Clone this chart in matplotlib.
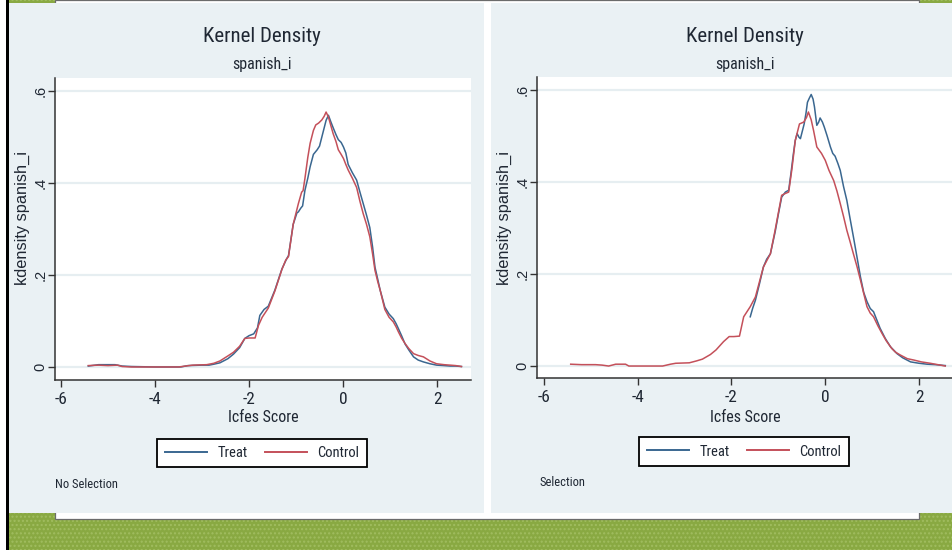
import os
import matplotlib
matplotlib.use("Agg")
import matplotlib.pyplot as plt
from matplotlib.patches import Rectangle
from matplotlib.lines import Line2D
from matplotlib import font_manager
from matplotlib.font_manager import FontProperties

# ---------------- data ----------------
xticks = [-6, -4, -2, 0, 2]
yticks = [0, 0.2, 0.4, 0.6]
ytick_labels = ["0", ".2", ".4", ".6"]
series_names = ["Treat", "Control"]

# Left panel: No Selection
left_treat_x = [-5.42, -5.2, -4.85, -4.7, -4.5, -4.0, -3.45, -3.3, -3.0, -2.85, -2.75, -2.62, -2.45, -2.33,
                -2.2, -2.09, -2.0, -1.9, -1.82, -1.77, -1.68, -1.59, -1.45, -1.30, -1.2, -1.16, -1.06, -0.98,
                -0.95, -0.90, -0.86, -0.81, -0.75, -0.70, -0.63, -0.55, -0.50, -0.45, -0.40, -0.36, -0.31,
                -0.26, -0.21, -0.15, -0.10, -0.04, 0.01, 0.06, 0.11, 0.2, 0.29, 0.36, 0.43, 0.50, 0.57, 0.63,
                0.68, 0.74, 0.79, 0.89, 0.98, 1.07, 1.13, 1.18, 1.25, 1.32, 1.40, 1.50, 1.60, 1.71, 1.85,
                1.99, 2.15, 2.28, 2.4, 2.52]
left_treat_y = [0.002, 0.005, 0.005, 0.002, 0.001, 0.0, 0.0, 0.003, 0.004, 0.004, 0.006, 0.009, 0.018, 0.028,
                0.042, 0.062, 0.068, 0.072, 0.085, 0.112, 0.125, 0.132, 0.167, 0.213, 0.235, 0.242, 0.31, 0.335,
                0.337, 0.345, 0.35, 0.384, 0.41, 0.435, 0.462, 0.472, 0.48, 0.50, 0.52, 0.536, 0.547,
                0.533, 0.52, 0.505, 0.494, 0.488, 0.478, 0.465, 0.44, 0.422, 0.406, 0.38, 0.355, 0.33, 0.303, 0.26,
                0.217, 0.19, 0.167, 0.13, 0.115, 0.105, 0.094, 0.083, 0.067, 0.05, 0.037, 0.022, 0.015, 0.011, 0.007,
                0.004, 0.003, 0.002, 0.002, 0.001]

left_control_x = [-5.42, -5.2, -5.0, -4.8, -4.7, -4.5, -4.0, -3.5, -3.35, -3.2, -2.9, -2.75, -2.62, -2.45,
                  -2.33, -2.2, -2.09, -2.0, -1.87, -1.8, -1.72, -1.59, -1.45, -1.30, -1.22, -1.16, -1.06, -0.95,
                  -0.88, -0.85, -0.81, -0.75, -0.70, -0.63, -0.58, -0.52, -0.45, -0.40, -0.36, -0.31, -0.26,
                  -0.21, -0.15, -0.10, -0.04, 0.01, 0.06, 0.11, 0.2, 0.29, 0.36, 0.43, 0.50, 0.57, 0.63, 0.68,
                  0.74, 0.79, 0.89, 0.98, 1.07, 1.13, 1.18, 1.25, 1.32, 1.40, 1.50, 1.60, 1.71, 1.85, 1.99,
                  2.15, 2.28, 2.4, 2.52]
left_control_y = [0.003, 0.004, 0.003, 0.004, 0.001, 0.0, 0.0, 0.0, 0.002, 0.004, 0.005, 0.008, 0.013, 0.024,
                  0.032, 0.045, 0.062, 0.063, 0.063, 0.09, 0.108, 0.128, 0.165, 0.212, 0.232, 0.24, 0.31, 0.355,
                  0.38, 0.383, 0.41, 0.455, 0.486, 0.514, 0.526, 0.53, 0.537, 0.545, 0.554, 0.543, 0.525,
                  0.507, 0.49, 0.472, 0.462, 0.453, 0.44, 0.428, 0.41, 0.39, 0.36, 0.333, 0.31, 0.283, 0.245, 0.21,
                  0.185, 0.167, 0.125, 0.108, 0.098, 0.087, 0.076, 0.062, 0.051, 0.04, 0.029, 0.025, 0.022, 0.013, 0.007,
                  0.005, 0.004, 0.003, 0.001]

# Right panel: Selection
right_treat_x = [-1.60, -1.55, -1.49, -1.40, -1.32, -1.25, -1.17, -1.07, -1.0, -0.93, -0.85, -0.78, -0.73,
                 -0.68, -0.64, -0.60, -0.56, -0.53, -0.49, -0.45, -0.41, -0.38, -0.34, -0.30, -0.26, -0.23,
                 -0.18, -0.14, -0.11, -0.06, -0.02, 0.04, 0.11, 0.16, 0.21, 0.27, 0.32, 0.39, 0.46, 0.53, 0.60,
                 0.68, 0.75, 0.82, 0.89, 0.96, 1.03, 1.10, 1.17, 1.28, 1.39, 1.53, 1.65, 1.82, 2.0, 2.17, 2.35, 2.56]
right_treat_y = [0.107, 0.125, 0.143, 0.18, 0.215, 0.232, 0.244, 0.291, 0.33, 0.367, 0.378, 0.382, 0.42,
                 0.461, 0.49, 0.505, 0.497, 0.494, 0.51, 0.526, 0.55, 0.573, 0.582, 0.59, 0.58, 0.563,
                 0.523, 0.53, 0.539, 0.53, 0.519, 0.5, 0.476, 0.462, 0.456, 0.44, 0.425, 0.39, 0.36, 0.32, 0.281,
                 0.235, 0.194, 0.16, 0.14, 0.125, 0.118, 0.1, 0.082, 0.06, 0.042, 0.027, 0.018, 0.009, 0.006, 0.004, 0.003, 0.001]

right_control_x = [-5.43, -5.2, -4.9, -4.76, -4.62, -4.47, -4.26, -4.19, -3.7, -3.47, -3.3, -3.19, -2.9, -2.75,
                   -2.62, -2.45, -2.33, -2.17, -2.05, -1.95, -1.83, -1.74, -1.60, -1.49, -1.32, -1.17, -1.07,
                   -0.93, -0.85, -0.78, -0.71, -0.64, -0.55, -0.46, -0.40, -0.36, -0.30, -0.25, -0.18, -0.08,
                   0.0, 0.08, 0.18, 0.25, 0.32, 0.39, 0.46, 0.53, 0.60, 0.68, 0.75, 0.82, 0.89, 0.96, 1.03, 1.12,
                   1.21, 1.3, 1.42, 1.50, 1.60, 1.75, 1.89, 2.05, 2.24, 2.4, 2.56]
right_control_y = [0.004, 0.003, 0.003, 0.002, 0.0, 0.004, 0.004, 0.0, 0.0, 0.0, 0.004, 0.006, 0.007, 0.011,
                   0.015, 0.025, 0.035, 0.053, 0.064, 0.064, 0.065, 0.107, 0.129, 0.15, 0.215, 0.244, 0.295,
                   0.371, 0.375, 0.378, 0.429, 0.49, 0.526, 0.53, 0.54, 0.552, 0.535, 0.512, 0.476, 0.462,
                   0.447, 0.425, 0.403, 0.38, 0.353, 0.325, 0.295, 0.27, 0.244, 0.215, 0.187, 0.158, 0.129, 0.115, 0.107, 0.088,
                   0.071, 0.055, 0.038, 0.03, 0.024, 0.016, 0.013, 0.009, 0.006, 0.003, 0.0]

panel_notes = ["No Selection", "Selection"]

# ---------------- style ----------------
W, H = 952, 550
BLUE = "#3a6790"
RED = "#c4505a"
REGION = "#eaf1f4"
GRID = "#e6eef1"
GREEN = "#89a942"
TXT = "#1f2733"


def pick_condensed():
    files = [f.fname for f in font_manager.fontManager.ttflist]
    preferred = ["liberationsansnarrow-regular.ttf", "arialn.ttf", "robotocondensed-regular.ttf",
                 "notosans-condensed.ttf", "opensans-condensed-regular.ttf", "opensans_condensed-regular.ttf",
                 "dejavusanscondensed.ttf", "notosans-semicondensed.ttf", "opensans_semicondensed-regular.ttf"]
    by_base = {os.path.basename(fn).lower(): fn for fn in files}
    for p in preferred:
        if p in by_base:
            return by_base[p]
    bad = ("bold", "italic", "oblique", "light", "thin", "medium", "black", "extra", "ultra", "mono",
           "serif", "heavy", "semi")
    for fn in sorted(files):
        b = os.path.basename(fn).lower()
        if ("condensed" in b or "narrow" in b) and not any(k in b for k in bad):
            return fn
    return None


COND_FILE = pick_condensed()


def fp_narrow(size):
    if COND_FILE:
        return FontProperties(fname=COND_FILE, size=size)
    return FontProperties(family="Liberation Sans", size=size * 0.86)


def fp_reg(size):
    return FontProperties(family="Liberation Sans", size=size)


fig = plt.figure(figsize=(W / 100, H / 100), dpi=100)
fig.patch.set_facecolor(GREEN)


def frect(x0, y0, x1, y1, **kw):
    r = Rectangle((x0 / W, 1 - y1 / H), (x1 - x0) / W, (y1 - y0) / H,
                  transform=fig.transFigure, **kw)
    fig.add_artist(r)
    return r


# slide background texture and frames
frect(9, 0, 952, 550, facecolor=GREEN, edgecolor="#a1bd60", hatch="....", lw=0, zorder=-20)
frect(0, 0, 6, 550, facecolor="white", lw=0, zorder=-19)
frect(6, 0, 9, 550, facecolor="black", lw=0, zorder=-19)
frect(55, 0, 919, 519, facecolor="white", edgecolor="#6b6b6b", lw=0.9, zorder=-18)
frect(9, 3, 484, 513, facecolor=REGION, lw=0, zorder=-17)
frect(491, 3, 952, 513, facecolor=REGION, lw=0, zorder=-17)

panels = [
    dict(ax_px=(55, 78, 471, 380), xlim=(-6.128, 2.723), ylim=(-0.0283, 0.628),
         tx=left_treat_x, ty=left_treat_y, cx=left_control_x, cy=left_control_y,
         cxpx=262, leg=(262, 453), note=(55, 484), note_text=panel_notes[0]),
    dict(ax_px=(537, 77, 953, 378), xlim=(-6.149, 2.725), ylim=(-0.026, 0.628),
         tx=right_treat_x, ty=right_treat_y, cx=right_control_x, cy=right_control_y,
         cxpx=745, leg=(744, 451.5), note=(539, 482), note_text=panel_notes[1]),
]

for p in panels:
    x0, y0, x1, y1 = p["ax_px"]
    ax = fig.add_axes([x0 / W, 1 - y1 / H, (x1 - x0) / W, (y1 - y0) / H])
    ax.set_facecolor("white")
    ax.plot(p["tx"], p["ty"], color=BLUE, lw=1.1, label=series_names[0], zorder=3)
    ax.plot(p["cx"], p["cy"], color=RED, lw=1.1, label=series_names[1], zorder=3)
    ax.set_xlim(*p["xlim"])
    ax.set_ylim(*p["ylim"])
    ax.set_xticks(xticks)
    ax.set_xticklabels([str(v) for v in xticks], fontproperties=fp_narrow(12.5), color=TXT)
    ax.set_yticks(yticks)
    ax.set_yticklabels(ytick_labels, rotation=90, va="center", fontproperties=fp_reg(10.5), color=TXT)
    ax.tick_params(axis="x", length=5, width=1.0, color="#333333", pad=3.5)
    ax.tick_params(axis="y", length=5, width=1.0, color="#333333", pad=0.5)
    for s in ("top", "right"):
        ax.spines[s].set_visible(False)
    for s in ("left", "bottom"):
        ax.spines[s].set_color("#333333")
        ax.spines[s].set_linewidth(1.1)
    ax.grid(axis="y", color=GRID, lw=1.6, zorder=1)
    ax.set_axisbelow(True)

    ax.set_xlabel("Icfes Score", fontproperties=fp_narrow(11.5), color=TXT, va="center")
    ax.xaxis.set_label_coords(0.5, (y1 - 418) / (y1 - y0))
    ax.set_ylabel("kdensity spanish_i", fontproperties=fp_reg(11.8), color=TXT, va="center", ha="center")
    ax.yaxis.set_label_coords(-33 / (x1 - x0), (y1 - 218) / (y1 - y0))

    fig.text(p["cxpx"] / W, 1 - 36 / H, "Kernel Density", ha="center", va="center",
             fontproperties=fp_narrow(15), color=TXT)
    fig.text(p["cxpx"] / W, 1 - 65 / H, "spanish_i", ha="center", va="center",
             fontproperties=fp_narrow(11.5), color=TXT)
    fig.text(p["note"][0] / W, 1 - p["note"][1] / H, p["note_text"], ha="left", va="center",
             fontproperties=fp_narrow(9), color=TXT)

    handles = [Line2D([], [], color=BLUE, lw=1.4), Line2D([], [], color=RED, lw=1.4)]
    leg = ax.legend(handles, series_names, loc="center",
                    bbox_to_anchor=(p["leg"][0] / W, 1 - p["leg"][1] / H),
                    bbox_transform=fig.transFigure, ncol=2, frameon=True, fancybox=False,
                    edgecolor="black", facecolor="white", framealpha=1,
                    borderpad=0.5, handlelength=2.9, handletextpad=0.7, columnspacing=1.2,
                    prop=fp_narrow(10.5))
    leg.get_frame().set_linewidth(1.3)
    for t in leg.get_texts():
        t.set_color(TXT)

fig.savefig("out.png", dpi=100, facecolor=fig.get_facecolor())
